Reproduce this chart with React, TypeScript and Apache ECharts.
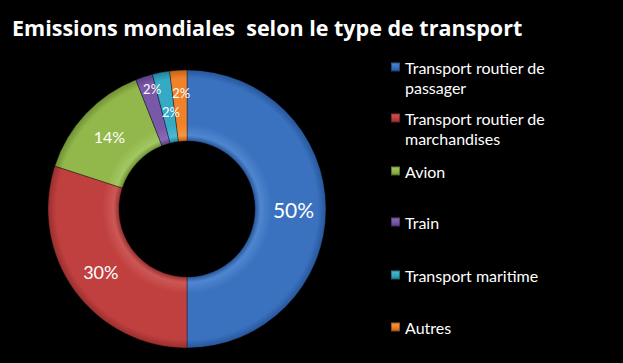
import React, { useEffect, useRef } from "react";
import * as echarts from "echarts";

const titleText = "Emissions mondiales  selon le type de transport";
const categories = [
  "Transport routier de passager",
  "Transport routier de marchandises",
  "Avion",
  "Train",
  "Transport maritime",
  "Autres",
];
const legendLines = [
  ["Transport routier de", "passager"],
  ["Transport routier de", "marchandises"],
  ["Avion"],
  ["Train"],
  ["Transport maritime"],
  ["Autres"],
];
const values = [50, 30, 14, 2, 2, 2];

const baseColors = ["#3a72c0", "#c0403f", "#92b84c", "#7a58a8", "#35aac4", "#f0822a"];
const darkColors = ["#28569a", "#982f2e", "#6f9034", "#5a3e84", "#23839a", "#c0621a"];
const lightColors = ["#4f86cf", "#cc5856", "#a3c763", "#8a6ab6", "#4cbad2", "#f6963f"];
const labelSizes = [21, 18, 16, 13, 13, 13];
const labelNudges = [
  [0, 0],
  [0, 0],
  [0, 0],
  [-2, -19],
  [4, 8],
  [1, -10],
];
const legendCenters = [67, 118, 171, 222, 275, 327];

const FONT = "Lato, 'Open Sans', sans-serif";
const CX = 187;
const CY = 209;
const R0 = 68;
const R1 = 139;
const LH = 20;

function sliceColor(i: number) {
  const inner = R0 / R1;
  return {
    type: "radial",
    x: CX,
    y: CY,
    r: R1,
    global: true,
    colorStops: [
      { offset: 0, color: darkColors[i] },
      { offset: inner, color: darkColors[i] },
      { offset: inner + 0.04, color: lightColors[i] },
      { offset: inner + 0.12, color: baseColors[i] },
      { offset: 0.94, color: baseColors[i] },
      { offset: 1, color: darkColors[i] },
    ],
  };
}

function iconColor(i: number) {
  return {
    type: "linear",
    x: 0,
    y: 0,
    x2: 0,
    y2: 1,
    colorStops: [
      { offset: 0, color: lightColors[i] },
      { offset: 0.5, color: baseColors[i] },
      { offset: 1, color: darkColors[i] },
    ],
  };
}

export default function App() {
  const ref = useRef<HTMLDivElement>(null);
  useEffect(() => {
    if (!ref.current) return;
    const chart = echarts.init(ref.current, null, { renderer: "svg" });
    const legends = categories.map((name, i) => {
      const lines = legendLines[i];
      const text = lines.length > 1 ? "\n" + lines.join("\n") : lines[0];
      const nLines = lines.length > 1 ? 3 : 1;
      return {
        data: [{ name, icon: "rect", itemStyle: { color: iconColor(i) } }],
        left: 390,
        top: legendCenters[i] - (nLines * LH) / 2,
        orient: "vertical",
        itemWidth: 9,
        itemHeight: 9,
        itemGap: 0,
        padding: 0,
        selectedMode: false,
        formatter: () => text,
        textStyle: {
          color: "#ffffff",
          fontFamily: FONT,
          fontSize: 16,
          lineHeight: LH,
        },
      };
    });
    chart.setOption({
      animation: false,
      backgroundColor: "#000000",
      title: {
        text: titleText,
        left: 12,
        top: 16,
        padding: 0,
        textStyle: {
          color: "#ffffff",
          fontFamily: "'Open Sans', Lato, sans-serif",
          fontWeight: "bold",
          fontSize: 21.5,
        },
      },
      legend: legends,
      series: [
        {
          type: "pie",
          center: [CX, CY],
          radius: [R0, R1],
          startAngle: 90,
          clockwise: true,
          avoidLabelOverlap: false,
          itemStyle: { borderColor: "rgba(0,0,0,0.35)", borderWidth: 1 },
          label: {
            show: true,
            position: "inside",
            color: "#ffffff",
            fontFamily: FONT,
            formatter: "{d}%",
          },
          labelLayout: (p: any) => ({
            dx: labelNudges[p.dataIndex][0],
            dy: labelNudges[p.dataIndex][1],
          }),
          emphasis: { disabled: true },
          data: categories.map((name, i) => ({
            name,
            value: values[i],
            itemStyle: { color: sliceColor(i) },
            label: { fontSize: labelSizes[i] },
          })),
        },
      ],
    });
    return () => chart.dispose();
  }, []);
  return (
    <div
      style={{ position: "fixed", left: 0, top: 0, width: 623, height: 363, background: "#000" }}
    >
      <div ref={ref} style={{ width: 623, height: 363 }} />
    </div>
  );
}
